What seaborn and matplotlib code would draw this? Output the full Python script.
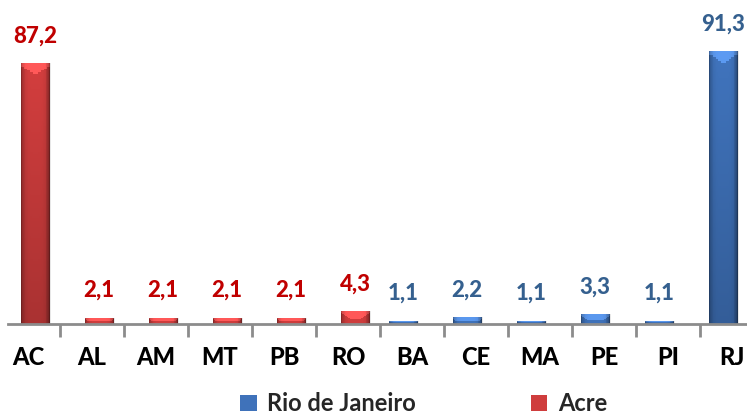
import numpy as np
import pandas as pd
import matplotlib
matplotlib.use("Agg")
import matplotlib.pyplot as plt
import matplotlib.colors as mcolors
import seaborn as sns

# Unidades da federação e percentuais por série
states = ["AC", "AL", "AM", "MT", "PB", "RO", "BA", "CE", "MA", "PE", "PI", "RJ"]
acre = [87.2, 2.1, 2.1, 2.1, 2.1, 4.3, 0, 0, 0, 0, 0, 0]
rio = [0, 0, 0, 0, 0, 0, 1.1, 2.2, 1.1, 3.3, 1.1, 91.3]
series_names = ["Rio de Janeiro", "Acre"]

bar_colors = {"Rio de Janeiro": "#3F72BA", "Acre": "#CF3D3D"}
label_colors = {"Rio de Janeiro": "#35608F", "Acre": "#C00000"}
bar_shift = {"Rio de Janeiro": -0.14, "Acre": 0.11}

rows = []
for s, a, r in zip(states, acre, rio):
    if r > 0:
        rows.append({"UF": s, "Série": "Rio de Janeiro", "Valor": r})
    if a > 0:
        rows.append({"UF": s, "Série": "Acre", "Valor": a})
df = pd.DataFrame(rows)

sns.set_theme(style="white")
plt.rcParams["font.family"] = ["Lato", "DejaVu Sans"]
FONT = ["Lato", "DejaVu Sans"]

fig = plt.figure(figsize=(7.47, 4.15), dpi=100)
ax = fig.add_axes([8 / 747, 91 / 415, 1 - 8 / 747, 1 - 91 / 415])

sns.barplot(data=df, x="UF", y="Valor", hue="Série", order=states,
            hue_order=series_names, palette=bar_colors, dodge=False,
            width=0.44, legend=False, ax=ax, saturation=1, edgecolor="none")

ax.set_xlim(-0.31, 11.23)
ax.set_ylim(0, 108.4)


def shade_bar(bar, base):
    """Fill a bar with a bevelled gradient: dark sides, light top, darker base."""
    x, y, w, h = bar.get_x(), bar.get_y(), bar.get_width(), bar.get_height()
    nx, ny = 40, 140
    u = np.linspace(0, 1, nx)
    side = 1.0 - 0.35 * np.abs(2 * u - 1) ** 5
    side = side * (1.0 - 0.18 * np.clip((u - 0.85) / 0.15, 0, 1))
    hpx = h * 2.99
    v = np.linspace(0, 1, ny)
    vert = 0.82 + 0.2 * v if hpx > 40 else np.full(ny, 1.0)
    rgb = np.array(mcolors.to_rgb(base))
    img = rgb[None, None, :] * side[None, :, None] * vert[:, None, None]
    # light chevron on the top face
    ypx = (1 - v) * hpx
    d = np.abs(2 * u - 1)
    chevron = (ypx[:, None] < 2 + 9 * (1 - d[None, :])) & (ypx[:, None] < hpx * 0.6)
    img[chevron] = np.clip(img[chevron] * 1.2 + 0.06, 0, 1)
    img = np.clip(img, 0, 1)
    im = ax.imshow(img, extent=[x, x + w, y, y + h], origin="lower",
                   aspect="auto", zorder=2, interpolation="nearest")
    im.set_clip_path(bar)
    bar.set_facecolor("none")
    bar.set_edgecolor("none")


for container, name in zip(ax.containers, series_names):
    for bar in container:
        bar.set_x(bar.get_x() + bar_shift[name])
        # soft shadow at the right side
        sh = plt.Rectangle((bar.get_x() + 0.03, bar.get_y()),
                           bar.get_width(), bar.get_height(),
                           facecolor="#BBBBBB", alpha=0.35, edgecolor="none",
                           zorder=1.5)
        ax.add_patch(sh)
        shade_bar(bar, bar_colors[name])
    labels = [f"{v:.1f}".replace(".", ",") for v in container.datavalues]
    ax.bar_label(container, labels=labels, padding=12, color=label_colors[name],
                 fontsize=16, fontweight=900, family=FONT, zorder=5)

ax.set_xlim(-0.31, 11.23)
ax.set_ylim(0, 108.4)

# Bottom axis line with tick marks between categories
for side in ["left", "right", "top"]:
    ax.spines[side].set_visible(False)
ax.spines["bottom"].set_color("#8C8C8C")
ax.spines["bottom"].set_linewidth(2)
ax.spines["bottom"].set_zorder(3)
ax.set_yticks([])
ax.set_xticks(np.arange(len(states)))
ax.set_xticklabels(states, fontsize=17, fontweight=900, color="black", family=FONT)
ax.tick_params(axis="x", length=0, pad=16)
ax.set_xticks(np.arange(len(states) - 1) + 0.5, minor=True)
ax.tick_params(axis="x", which="minor", length=9, width=2, color="#8C8C8C",
               direction="out", bottom=True)
ax.set_xlabel("")
ax.set_ylabel("")

handles = [plt.Rectangle((0, 0), 1, 1, facecolor=bar_colors[n], edgecolor="none")
           for n in series_names]
fig.legend(handles, series_names, loc="center", bbox_to_anchor=(0.567, 0.027),
           ncol=2, frameon=False, handlelength=0.7, handleheight=0.7,
           handletextpad=0.45, columnspacing=4.85,
           prop={"family": FONT, "size": 17, "weight": "bold"})

fig.savefig("out.png", dpi=100)
